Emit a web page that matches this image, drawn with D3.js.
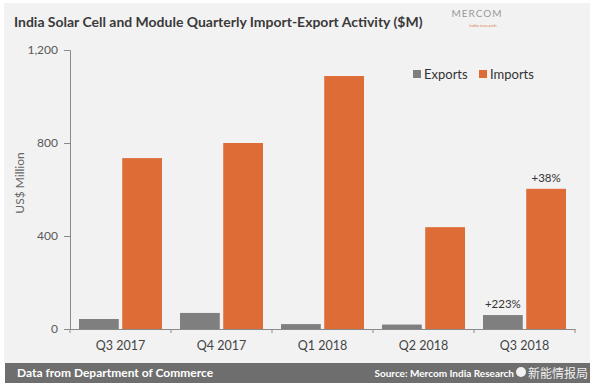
<!DOCTYPE html>
<html><head><meta charset="utf-8">
<script src="https://cdn.jsdelivr.net/npm/d3@7"></script>
<style>body{margin:0;background:#fff}svg{display:block}</style>
</head><body>
<svg id="c" width="600" height="389"></svg>
<script>
const categories = ["Q3 2017","Q4 2017","Q1 2018","Q2 2018","Q3 2018"];
const seriesNames = ["Exports","Imports"];
const exportsVals = [43, 69, 21, 19, 60];
const importsVals = [735, 800, 1088, 438, 603];
const yTicks = [0, 400, 800, 1200];
const annotations = [
  {cat:"Q3 2018", series:"Exports", text:"+223%"},
  {cat:"Q3 2018", series:"Imports", text:"+38%"}
];
const colors = {Exports:"#7f7f7f", Imports:"#de6c37"};

const svg = d3.select("#c");
const font = "Lato, 'Open Sans', sans-serif";

// backgrounds
svg.append("rect").attr("x",4).attr("y",3).attr("width",586).attr("height",360).attr("fill","#f2f2f2");
svg.append("rect").attr("x",5).attr("y",363).attr("width",585).attr("height",20).attr("fill","#6e6e6e");

// title (font size fitted to the reference width)
const title = svg.append("text").attr("x",14).attr("y",27).attr("font-family",font).attr("font-weight","bold")
  .attr("font-size",16).attr("fill","#3a3a3a")
  .text("India Solar Cell and Module Quarterly Import-Export Activity ($M)");
const natural = title.node().getComputedTextLength();
title.attr("font-size", Math.min(17, 16 * 409 / natural));

// logo
svg.append("text").attr("x",477).attr("y",17).attr("text-anchor","middle").attr("font-family",font)
  .attr("font-size",10).attr("letter-spacing",1).attr("fill","#9a9a9a").text("MERCOM");
svg.append("text").attr("x",483).attr("y",27).attr("text-anchor","middle").attr("font-family",font)
  .attr("font-size",4.5).attr("fill","#d9825a").text("india research");

const x = d3.scaleBand().domain(categories).range([70,575]).paddingInner(0).paddingOuter(0);
const xi = d3.scaleBand().domain(seriesNames).range([9, x.bandwidth()-9]).paddingInner(0.08);
const y = d3.scaleLinear().domain([0,1200]).range([329,50]);

// y axis
const ya = svg.append("g").attr("transform","translate(70,0)")
  .call(d3.axisLeft(y).tickValues(yTicks).tickSize(6).tickPadding(6).tickFormat(d3.format(",")));
ya.select(".domain").attr("stroke","#8a8a8a");
ya.selectAll(".tick line").attr("stroke","#8a8a8a");
ya.selectAll("text").attr("font-family",font).attr("font-size",12).attr("fill","#595959");

// x axis
const xa = svg.append("g").attr("transform","translate(0,329)")
  .call(d3.axisBottom(x).tickSize(0).tickPadding(12));
xa.select(".domain").attr("stroke","#8a8a8a");
xa.selectAll("text").attr("font-family",font).attr("font-size",12.5).attr("fill","#444");
// boundary ticks
const bounds = categories.map(c=>x(c)).concat([x(categories[categories.length-1])+x.bandwidth()]);
svg.append("g").selectAll("line").data(bounds).join("line")
  .attr("x1",d=>d).attr("x2",d=>d).attr("y1",329).attr("y2",333).attr("stroke","#8a8a8a");

// y label
svg.append("text").attr("transform","translate(24,183) rotate(-90)").attr("text-anchor","middle")
  .attr("font-family",font).attr("font-size",12).attr("fill","#666").text("US$ Million");

// bars
const data = [];
categories.forEach((c,i)=>{
  data.push({cat:c, series:"Exports", v:exportsVals[i]});
  data.push({cat:c, series:"Imports", v:importsVals[i]});
});
svg.append("g").selectAll("rect").data(data).join("rect")
  .attr("x",d=>x(d.cat)+xi(d.series)).attr("width",xi.bandwidth())
  .attr("y",d=>y(d.v)).attr("height",d=>y(0)-y(d.v)).attr("fill",d=>colors[d.series]);

// annotations
svg.append("g").selectAll("text").data(annotations).join("text")
  .attr("x",d=>x(d.cat)+xi(d.series)+xi.bandwidth()/2)
  .attr("y",d=>{const i=categories.indexOf(d.cat);const v=d.series==="Exports"?exportsVals[i]:importsVals[i];return y(v)-7;})
  .attr("text-anchor","middle").attr("font-family",font).attr("font-size",11.5).attr("fill","#333")
  .text(d=>d.text);

// legend
const lg = svg.append("g");
const legendX = {Exports:413, Imports:479};
seriesNames.forEach(s=>{
  lg.append("rect").attr("x",legendX[s]).attr("y",70).attr("width",8).attr("height",8).attr("fill",colors[s]);
  lg.append("text").attr("x",legendX[s]+11).attr("y",78.5).attr("font-family",font).attr("font-size",13)
    .attr("fill","#333").text(s);
});

// footer
svg.append("text").attr("x",17).attr("y",377).attr("font-family",font).attr("font-weight","bold")
  .attr("font-size",12).attr("fill","#fff").text("Data from Department of Commerce");
svg.append("text").attr("x",514).attr("y",377).attr("text-anchor","end").attr("font-family",font).attr("font-weight","bold")
  .attr("font-size",10).attr("fill","#fff")
  .text("Source: Mercom India Research");
// watermark
svg.append("circle").attr("cx",521).attr("cy",372).attr("r",5).attr("fill","#fff").attr("opacity",0.9);
svg.append("text").attr("x",588).attr("y",378).attr("text-anchor","end").attr("font-family","'Noto Sans CJK SC'")
  .attr("font-size",12).attr("fill","#fff").attr("opacity",0.9).text("新能情报局");
</script>
</body></html>
